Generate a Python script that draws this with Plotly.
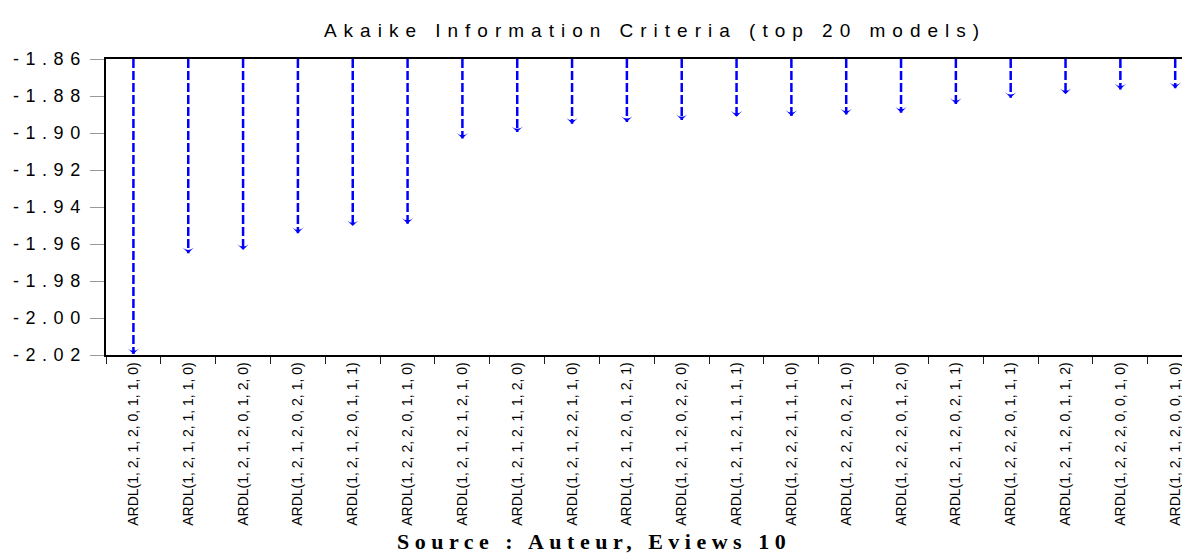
import plotly.graph_objects as go

MODELS = [
    "ARDL(1, 2, 1, 2, 0, 1, 1, 0)",
    "ARDL(1, 2, 1, 2, 1, 1, 1, 0)",
    "ARDL(1, 2, 1, 2, 0, 1, 2, 0)",
    "ARDL(1, 2, 1, 2, 0, 2, 1, 0)",
    "ARDL(1, 2, 1, 2, 0, 1, 1, 1)",
    "ARDL(1, 2, 2, 2, 0, 1, 1, 0)",
    "ARDL(1, 2, 1, 2, 1, 2, 1, 0)",
    "ARDL(1, 2, 1, 2, 1, 1, 2, 0)",
    "ARDL(1, 2, 1, 2, 2, 1, 1, 0)",
    "ARDL(1, 2, 1, 2, 0, 1, 2, 1)",
    "ARDL(1, 2, 1, 2, 0, 2, 2, 0)",
    "ARDL(1, 2, 1, 2, 1, 1, 1, 1)",
    "ARDL(1, 2, 2, 2, 1, 1, 1, 0)",
    "ARDL(1, 2, 2, 2, 0, 2, 1, 0)",
    "ARDL(1, 2, 2, 2, 0, 1, 2, 0)",
    "ARDL(1, 2, 1, 2, 0, 2, 1, 1)",
    "ARDL(1, 2, 2, 2, 0, 1, 1, 1)",
    "ARDL(1, 2, 1, 2, 0, 1, 1, 2)",
    "ARDL(1, 2, 2, 2, 0, 0, 1, 0)",
    "ARDL(1, 2, 1, 2, 0, 0, 1, 0)",
]

AIC = [
    -2.0195, -1.9650, -1.9632, -1.9542, -1.9503, -1.9490,
    -1.9030, -1.8995, -1.8950, -1.8940, -1.8930, -1.8912,
    -1.8908, -1.8900, -1.8890, -1.8843, -1.8810, -1.8790,
    -1.8765, -1.8758,
]

Y_TICKS = [-2.02, -2.00, -1.98, -1.96, -1.94, -1.92, -1.90, -1.88, -1.86]
AXIS_TOP = -1.86
AXIS_BOTTOM = -2.02

TITLE = "Akaike Information Criteria (top 20 models)"
SOURCE = "Source : Auteur, Eviews 10"

BLUE = "#0000FF"

# the page body has an 8px default margin, so the figure is sized to fit
FIG_W, FIG_H = 1182, 545

# dropped dashed lines from the top of the axis to each value
line_x, line_y = [], []
for m, v in zip(MODELS, AIC):
    line_x += [m, m, None]
    line_y += [AXIS_TOP, v, None]

fig = go.Figure()
fig.add_trace(go.Scatter(
    x=line_x, y=line_y, mode="lines",
    line=dict(color=BLUE, width=2.5, dash="9px,3px"),
    hoverinfo="skip", showlegend=False, connectgaps=False,
))
fig.add_trace(go.Scatter(
    x=MODELS, y=AIC, mode="markers",
    marker=dict(symbol="arrow-wide", angle=180, size=8, color=BLUE,
                line=dict(width=0)),
    showlegend=False,
))

def spaced(txt, px):
    return f'<span style="letter-spacing:{px}px">{txt}</span>'

fig.update_layout(
    width=FIG_W, height=FIG_H,
    margin=dict(l=98, r=0, t=51, b=198, autoexpand=False),
    paper_bgcolor="white", plot_bgcolor="white",
    title=dict(
        text=spaced(TITLE, 7),
        font=dict(family="Liberation Sans, Arial", size=19, color="black"),
        x=647 / FIG_W, xanchor="center", xref="container",
        y=1 - 22 / FIG_H, yanchor="middle", yref="container",
    ),
    xaxis=dict(
        type="category",
        categoryorder="array", categoryarray=MODELS,
        range=[-0.5, 19.27],
        automargin=False,
        showgrid=False, zeroline=False,
        showline=True, linecolor="black", linewidth=1.5, mirror=True,
        ticks="outside", tickson="boundaries", ticklen=7, tickwidth=1,
        tickcolor="#222222",
        tickangle=-90,
        tickfont=dict(family="Liberation Sans, Arial", size=14, color="black"),
    ),
    yaxis=dict(
        range=[AXIS_BOTTOM, AXIS_TOP],
        automargin=False,
        tickvals=Y_TICKS,
        ticktext=[spaced(f"{t:.2f}", 6.5) for t in Y_TICKS],
        showgrid=False, zeroline=False,
        showline=True, linecolor="black", linewidth=1.5,
        ticks="outside", ticklen=14, tickwidth=1, tickcolor="#999999",
        tickfont=dict(family="Liberation Sans, Arial", size=18, color="black"),
    ),
    annotations=[dict(
        text=spaced(SOURCE, 5.5),
        xref="paper", yref="paper",
        x=(586 - 98) / 1084, y=-(533 - 347) / 296,
        xanchor="center", yanchor="middle", showarrow=False,
        font=dict(family="Liberation Serif, Times New Roman", size=22, color="black",
                  weight="bold"),
    )],
)

fig.write_html("out.html")
